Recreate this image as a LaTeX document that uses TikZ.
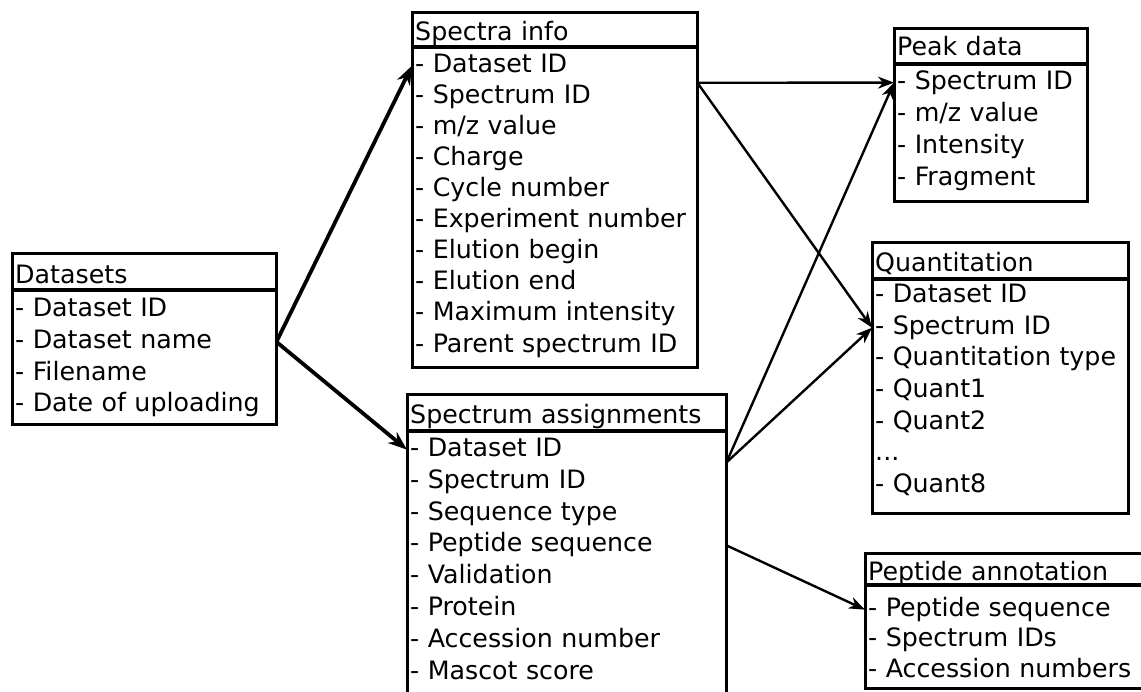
\documentclass[tikz,border=0pt]{standalone}
\usepackage{fontspec}
\setmainfont{DejaVu Sans}
\usetikzlibrary{arrows.meta}
\begin{document}
\begin{tikzpicture}[x=1pt,y=-1pt,
  every node/.style={font=\fontsize{25.3}{30}\selectfont},
  rowA/.style={anchor=west, inner xsep=3pt, inner ysep=0pt, text height=19.2pt, text depth=6.1pt, align=left},
  box/.style={line width=3pt},
  sep/.style={line width=3.6pt},
  big/.style={line width=3.8pt, -{Stealth[length=19pt,width=14pt,inset=6pt]}},
  small/.style={line width=2.4pt, -{Stealth[length=16pt,width=12pt,inset=5pt]}}]
\useasboundingbox (0,0) rectangle (1141,692);
% Datasets
\draw[box] (12,254) rectangle (276,425);
\draw[sep] (12,290) -- (276,290);
\node[rowA, text width=258pt] (dsT) at (12,276.6) {Datasets};
\foreach \t [count=\i] in {- Dataset ID, - Dataset name, - Filename, - Date of uploading}
  \node[rowA, text width=258pt] (ds\i) at (12,{307.5+2.65+(\i-1)*31.7}) {\t};
% Spectra info
\draw[box] (412,13) rectangle (697,368);
\draw[sep] (412,47) -- (697,47);
\node[rowA, text width=279pt] (siT) at (412,34.1) {Spectra info};
\foreach \t [count=\i] in {- Dataset ID, - Spectrum ID, - m/z value, - Charge, - Cycle number, - Experiment number, - Elution begin, - Elution end, - Maximum intensity, - Parent spectrum ID}
  \node[rowA, text width=279pt] (si\i) at (412,{63+2.65+(\i-1)*31.1}) {\t};
% Spectrum assignments
\draw[box] (407,395) rectangle (726,705);
\draw[sep] (407,431) -- (726,431);
\node[rowA, text width=313pt] (saT) at (407,416.6) {Spectrum assignments};
\foreach \t [count=\i] in {- Dataset ID, - Spectrum ID, - Sequence type, - Peptide sequence, - Validation, - Protein, - Accession number, - Mascot score}
  \node[rowA, text width=313pt] (sa\i) at (407,{447+2.65+(\i-1)*31.9}) {\t};
% Peak data
\draw[box] (894,29) rectangle (1087,202);
\draw[sep] (894,64) -- (1087,64);
\node[rowA, text width=187pt] (pdT) at (894,49.1) {Peak data};
\foreach \t [count=\i] in {- Spectrum ID, - m/z value, - Intensity, - Fragment}
  \node[rowA, text width=187pt] (pd\i) at (894,{80+2.65+(\i-1)*32}) {\t};
% Quantitation
\draw[box] (872,243) rectangle (1128,513);
\draw[sep] (872,279) -- (1128,279);
\node[rowA, text width=250pt] (qtT) at (872,264.6) {Quantitation};
\foreach \t [count=\i] in {- Dataset ID, - Spectrum ID, - Quantitation type, - Quant1, - Quant2, .{}.{}., - Quant8}
  \node[rowA, text width=250pt] (qt\i) at (872,{293.5+2.65+(\i-1)*31.6}) {\t};
% Peptide annotation
\draw[box] (865,553) rectangle (1150,688);
\draw[sep] (865,585) -- (1150,585);
\node[rowA, text width=279pt] (paT) at (865,573.6) {Peptide annotation};
\foreach \t [count=\i] in {- Peptide sequence, - Spectrum IDs, - Accession numbers}
  \node[rowA, text width=279pt] (pa\i) at (865,{607+2.65+(\i-1)*30.5}) {\t};
% connectors
\draw[big] (ds2.east) -- (si1.west);
\draw[big] (ds2.east) -- (sa1.west);
\draw[small] ([yshift=14pt]si2.east) -- (pd1.west);
\draw[small] ([yshift=14pt]si2.east) -- (qt2.west);
\draw[small] (sa1.south east) -- (pd1.west);
\draw[small] (sa1.south east) -- (qt2.west);
\draw[small] (sa4.east) -- (pa1.west);
\end{tikzpicture}
\end{document}
